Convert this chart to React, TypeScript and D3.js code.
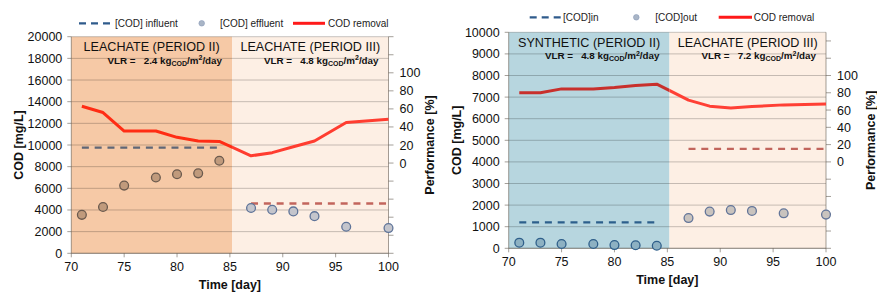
import React from "react";
import * as d3 from "d3";

// ---------- DATA ----------
const days = [71, 73, 75, 78, 80, 82, 84, 87, 89, 91, 93, 96, 100];
const periodBoundary = 85.2;
const influentSpanII = [71, 84];
const influentSpanIII = [87, 100];

// Left chart (leachate II -> leachate III)
const leftEffluent = [3550, 4280, 6250, 7000, 7300, 7380, 8550, 4180, 4020, 3870, 3430, 2450, 2330];
const leftRemoval = [63, 56, 35.5, 35.5, 28.5, 24.5, 24, 8, 11.5, 18, 24.5, 45, 48.5];
const leftInfluent = [9750, 4600];

// Right chart (synthetic II -> leachate III)
const rightEffluent = [260, 260, 200, 200, 150, 140, 120, 1400, 1700, 1770, 1730, 1620, 1560];
const rightRemoval = [80, 80, 84.5, 84.5, 86, 88.5, 90, 71.5, 64.5, 62.5, 64, 66, 67];
const rightInfluent = [1200, 4600];

const xTicks = [70, 75, 80, 85, 90, 95, 100];
const leftCodTicks = d3.range(0, 20001, 2000);
const rightCodTicks = d3.range(0, 10001, 1000);
const perfTicks = d3.range(-100, 141, 20);
const perfLabels = [0, 20, 40, 60, 80, 100];

const leftTitles = ["LEACHATE (PERIOD II)", "LEACHATE (PERIOD III)"];
const rightTitles = ["SYNTHETIC (PERIOD II)", "LEACHATE (PERIOD III)"];
const leftVLR = ["2.4", "4.8"];
const rightVLR = ["4.8", "7.2"];
const leftLegend = ["[COD] influent", "[COD] effluent", "COD removal"];
const rightLegend = ["[COD]in", "[COD]out", "COD removal"];

const FONT = "'Liberation Sans', Arial, sans-serif";

type Style = {
  bgII: string; bgIII: string;
  lineII: string; lineIII: string;
  dashII: string; dashIII: string;
  ptFillII: string; ptStrokeII: string;
  ptFillIII: string; ptStrokeIII: string;
  legendDash: string; legendDot: string;
};

type Props = {
  id: string;
  box: { x0: number; x1: number; y0: number; y1: number };
  codMax: number;
  codTicks: number[];
  perfMax: number;
  effluent: number[];
  removal: number[];
  influent: number[];
  titles: string[];
  vlr: string[];
  legend: string[];
  legendPos: { y: number; dash: number[]; dashText: number; dot: number; dotText: number; red: number[]; redText: number };
  st: Style;
  titleX: number;
  perfTitleX: number;
};

function VLRText({ x, y, v }: { x: number; y: number; v: string }) {
  return (
    <text x={x} y={y} textAnchor="end" fontFamily={FONT} fontSize={9.8} fontWeight="bold" fill="#111" style={{ whiteSpace: "pre" }}>
      {"VLR =   " + v + " kg"}
      <tspan fontSize={7} dy={2.2}>COD</tspan>
      <tspan dy={-2.2}>/m</tspan>
      <tspan fontSize={7} dy={-3.2}>2</tspan>
      <tspan dy={3.2}>/day</tspan>
    </text>
  );
}

function Chart(p: Props) {
  const { box, st } = p;
  const x = d3.scaleLinear().domain([70, 100]).range([box.x0, box.x1]);
  const y = d3.scaleLinear().domain([0, p.codMax]).range([box.y1, box.y0]);
  const yp = d3.scaleLinear().domain([-100, p.perfMax]).range([box.y1, box.y0]);
  const line = d3.line<number>().x((_, i) => x(days[i])).y((v) => yp(v));
  const xb = x(periodBoundary);
  const grid = "rgba(0,0,0,0.22)";
  const axis = "rgba(90,80,70,0.55)";
  const midY = (box.y0 + box.y1) / 2;
  return (
    <g>
      <defs>
        <clipPath id={p.id + "c2"}><rect x={box.x0} y={box.y0 - 5} width={xb - box.x0} height={box.y1 - box.y0 + 10} /></clipPath>
        <clipPath id={p.id + "c3"}><rect x={xb} y={box.y0 - 5} width={box.x1 - xb + 5} height={box.y1 - box.y0 + 10} /></clipPath>
      </defs>
      <rect x={box.x0} y={box.y0} width={xb - box.x0} height={box.y1 - box.y0} fill={st.bgII} />
      <rect x={xb} y={box.y0} width={box.x1 - xb} height={box.y1 - box.y0} fill={st.bgIII} />
      {p.codTicks.map((t) => (
        <line key={"g" + t} x1={box.x0} x2={box.x1} y1={y(t)} y2={y(t)} stroke={grid} strokeWidth={1} />
      ))}
      {/* axes */}
      <line x1={box.x0} x2={box.x0} y1={box.y0} y2={box.y1} stroke={axis} />
      <line x1={box.x1} x2={box.x1} y1={box.y0} y2={box.y1} stroke={axis} />
      <line x1={box.x0} x2={box.x1} y1={box.y1} y2={box.y1} stroke={axis} />
      {xTicks.map((t) => (
        <g key={"x" + t}>
          <line x1={x(t)} x2={x(t)} y1={box.y1} y2={box.y1 + 4} stroke={axis} />
          <text x={x(t)} y={box.y1 + 18} textAnchor="middle" fontFamily={FONT} fontSize={12.5} fill="#111">{t}</text>
        </g>
      ))}
      {p.codTicks.map((t) => (
        <g key={"y" + t}>
          <line x1={box.x0 - 4} x2={box.x0} y1={y(t)} y2={y(t)} stroke={axis} />
          <text x={box.x0 - 9} y={y(t) + 4.5} textAnchor="end" fontFamily={FONT} fontSize={12.5} fill="#111">{t}</text>
        </g>
      ))}
      {perfTicks.map((t) => (
        <line key={"p" + t} x1={box.x1} x2={box.x1 + 5} y1={yp(t)} y2={yp(t)} stroke={axis} />
      ))}
      {perfLabels.map((t) => (
        <text key={"pl" + t} x={box.x1 + 11} y={yp(t) + 4.5} fontFamily={FONT} fontSize={12.5} fill="#111">{t}</text>
      ))}
      {/* influent dashes */}
      <line x1={x(influentSpanII[0])} x2={x(influentSpanII[1])} y1={y(p.influent[0])} y2={y(p.influent[0])} stroke={st.dashII} strokeWidth={2.3} strokeDasharray="7,5.8" />
      <line x1={x(influentSpanIII[0])} x2={x(influentSpanIII[1])} y1={y(p.influent[1])} y2={y(p.influent[1])} stroke={st.dashIII} strokeWidth={2.3} strokeDasharray="7,5.8" />
      {/* removal line */}
      <path d={line(p.removal) || ""} fill="none" stroke={st.lineII} strokeWidth={3} clipPath={`url(#${p.id}c2)`} strokeLinejoin="round" />
      <path d={line(p.removal) || ""} fill="none" stroke={st.lineIII} strokeWidth={3} clipPath={`url(#${p.id}c3)`} strokeLinejoin="round" />
      {/* effluent points */}
      {p.effluent.map((v, i) => {
        const ii = days[i] < periodBoundary;
        return (
          <circle key={"e" + i} cx={x(days[i])} cy={y(v)} r={4.4}
            fill={ii ? st.ptFillII : st.ptFillIII} stroke={ii ? st.ptStrokeII : st.ptStrokeIII} strokeWidth={1.3} />
        );
      })}
      {/* period titles */}
      <text x={(box.x0 + xb) / 2} y={box.y0 + 14.3} textAnchor="middle" fontFamily={FONT} fontSize={12.6} fill="#111">{p.titles[0]}</text>
      <text x={(xb + box.x1) / 2} y={box.y0 + 14.3} textAnchor="middle" fontFamily={FONT} fontSize={12.6} fill="#111">{p.titles[1]}</text>
      <VLRText x={xb - 10} y={box.y0 + 26.8} v={p.vlr[0]} />
      <VLRText x={box.x1 - 10} y={box.y0 + 26.8} v={p.vlr[1]} />
      {/* axis titles */}
      <text x={(box.x0 + box.x1) / 2} y={box.y1 + 36} textAnchor="middle" fontFamily={FONT} fontSize={12.5} fontWeight="bold" fill="#111">Time [day]</text>
      <text transform={`translate(${p.titleX},${midY}) rotate(-90)`} textAnchor="middle" fontFamily={FONT} fontSize={12.5} fontWeight="bold" fill="#111">COD [mg/L]</text>
      <text transform={`translate(${p.perfTitleX},${midY}) rotate(-90)`} textAnchor="middle" fontFamily={FONT} fontSize={12.5} fontWeight="bold" fill="#111">Performance [%]</text>
      {/* legend */}
      <g fontFamily={FONT} fontSize={10} fill="#222">
        <line x1={p.legendPos.dash[0]} x2={p.legendPos.dash[1]} y1={p.legendPos.y} y2={p.legendPos.y} stroke={st.legendDash} strokeWidth={2.3} strokeDasharray="7,5" />
        <text x={p.legendPos.dashText} y={p.legendPos.y + 3.6}>{p.legend[0]}</text>
        <circle cx={p.legendPos.dot} cy={p.legendPos.y} r={2.8} fill={st.legendDot} stroke="#8a9ab8" strokeWidth={0.6} />
        <text x={p.legendPos.dotText} y={p.legendPos.y + 3.6}>{p.legend[1]}</text>
        <line x1={p.legendPos.red[0]} x2={p.legendPos.red[1]} y1={p.legendPos.y} y2={p.legendPos.y} stroke="#ff1a1a" strokeWidth={3} />
        <text x={p.legendPos.redText} y={p.legendPos.y + 3.6}>{p.legend[2]}</text>
      </g>
    </g>
  );
}

const leftStyle: Style = {
  bgII: "#f6c9a6", bgIII: "#fdefe4",
  lineII: "#ff2c14", lineIII: "#ff3d30",
  dashII: "#5f6676", dashIII: "#c2655c",
  ptFillII: "#c09a7c", ptStrokeII: "#6b5a4e",
  ptFillIII: "#c4c5cc", ptStrokeIII: "#5e7398",
  legendDash: "#2f5b8c", legendDot: "#a9b5c6",
};

const rightStyle: Style = {
  bgII: "#b7d6df", bgIII: "#fdefe4",
  lineII: "#c8302c", lineIII: "#ff4035",
  dashII: "#2c5f8c", dashIII: "#c2655c",
  ptFillII: "#8db1c2", ptStrokeII: "#2f5f8a",
  ptFillIII: "#c9c3be", ptStrokeIII: "#637599",
  legendDash: "#2f5b8c", legendDot: "#a9b5c6",
};

export default function App() {
  return (
    <svg width={877} height={293} style={{ position: "absolute", left: 0, top: 0, background: "#fff" }}>
      <rect width={877} height={293} fill="#fff" />
      <Chart
        id="L"
        box={{ x0: 71.3, x1: 388.5, y0: 36.7, y1: 253.3 }}
        codMax={20000}
        codTicks={leftCodTicks}
        perfMax={140}
        effluent={leftEffluent}
        removal={leftRemoval}
        influent={leftInfluent}
        titles={leftTitles}
        vlr={leftVLR}
        legend={leftLegend}
        legendPos={{ y: 23.3, dash: [79, 111], dashText: 115, dot: 201.7, dotText: 220, red: [293, 325], redText: 328 }}
        st={leftStyle}
        titleX={23}
        perfTitleX={434}
      />
      <Chart
        id="R"
        box={{ x0: 508.7, x1: 826, y0: 32.3, y1: 248.3 }}
        codMax={10000}
        codTicks={rightCodTicks}
        perfMax={150}
        effluent={rightEffluent}
        removal={rightRemoval}
        influent={rightInfluent}
        titles={rightTitles}
        vlr={rightVLR}
        legend={rightLegend}
        legendPos={{ y: 17.3, dash: [529.7, 561], dashText: 563, dot: 636.3, dotText: 655.3, red: [718.7, 752], redText: 753.7 }}
        st={rightStyle}
        titleX={461}
        perfTitleX={875}
      />
    </svg>
  );
}
